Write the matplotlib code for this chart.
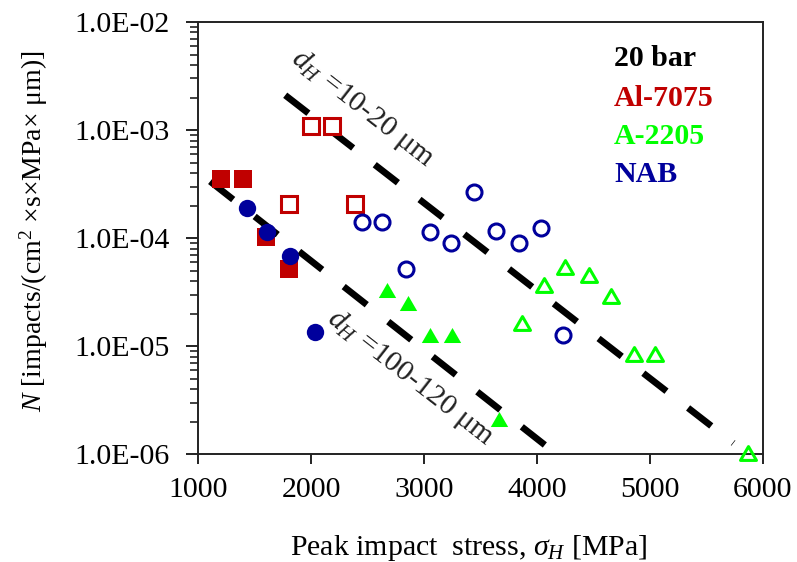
import matplotlib
matplotlib.use("Agg")
import matplotlib.pyplot as plt
from matplotlib.path import Path
from matplotlib.ticker import FixedLocator, FixedFormatter, LogLocator, NullFormatter

plt.rcParams['font.family'] = ['Liberation Serif', 'DejaVu Serif']
plt.rcParams['mathtext.fontset'] = 'custom'
plt.rcParams['mathtext.rm'] = 'Liberation Serif'
plt.rcParams['mathtext.it'] = 'Liberation Serif:italic'
plt.rcParams['mathtext.bf'] = 'Liberation Serif:bold'

# ---- data ----
al_fill_x = [1200, 1400, 1600, 1800]
al_fill_y = [3.5e-4, 3.5e-4, 1.03e-4, 5.2e-5]
al_open_x = [2000, 2180, 1800, 2390]
al_open_y = [1.1e-3, 1.1e-3, 2.05e-4, 2.05e-4]

nab_fill_x = [1430, 1610, 1810, 2030]
nab_fill_y = [1.9e-4, 1.15e-4, 6.8e-5, 1.35e-5]
nab_open_x = [2450, 2630, 3050, 3240, 3440, 3640, 3840, 4040, 2840, 4230]
nab_open_y = [1.42e-4, 1.42e-4, 1.15e-4, 9.0e-5, 2.7e-4, 1.17e-4, 9.0e-5, 1.25e-4, 5.2e-5, 1.27e-5]

a_fill_x = [2670, 2860, 3050, 3245, 3660]
a_fill_y = [3.3e-5, 2.5e-5, 1.27e-5, 1.27e-5, 2.1e-6]
a_open_x = [4060, 4250, 4460, 4660, 3865, 4860, 5050, 5870]
a_open_y = [3.7e-5, 5.45e-5, 4.6e-5, 2.9e-5, 1.65e-5, 8.4e-6, 8.4e-6, 1.03e-6]

line1_x = [1770, 5740]
line1_y = [2.1e-3, 1.27e-6]
line2_x = [1105, 4070]
line2_y = [3.35e-4, 1.22e-6]

x_ticks = [1000, 2000, 3000, 4000, 5000, 6000]
y_ticks = [1e-6, 1e-5, 1e-4, 1e-3, 1e-2]
y_tick_labels = ['1.0E-06', '1.0E-05', '1.0E-04', '1.0E-03', '1.0E-02']

legend_texts = ['20 bar', 'Al-7075', 'A-2205', 'NAB']

RED = '#C00000'
GREEN = '#00FF00'
BLUE = '#00009C'
FS = 21.5

tri = Path([(0, 0.5), (-0.5773, -0.5), (0.5773, -0.5), (0, 0.5)],
           [Path.MOVETO, Path.LINETO, Path.LINETO, Path.CLOSEPOLY])

fig = plt.figure(figsize=(7.97, 5.62), dpi=100)
ax = fig.add_axes([0.2488, 0.1916, 0.7082, 0.7693])
ax.set_yscale('log')

# dashed lines
dash = (0, (4.4, 4.1))
ax.plot(line1_x, line1_y, color='black', lw=4.8, linestyle=dash, dash_capstyle='butt', zorder=2)
ax.plot(line2_x, line2_y, color='black', lw=4.8, linestyle=dash, dash_capstyle='butt', zorder=2)

# markers
ax.plot(al_fill_x, al_fill_y, 's', ms=13.5, mfc=RED, mec=RED, mew=0, ls='none', zorder=3, clip_on=False)
ax.plot(al_open_x, al_open_y, 's', ms=11.0, mfc='white', mec=RED, mew=2.2, ls='none', zorder=3, clip_on=False)
ax.plot(nab_fill_x, nab_fill_y, 'o', ms=12.5, mfc=BLUE, mec=BLUE, mew=0, ls='none', zorder=4, clip_on=False)
ax.plot(nab_open_x, nab_open_y, 'o', ms=10.8, mfc='none', mec=BLUE, mew=2.2, ls='none', zorder=3, clip_on=False)
ax.plot(a_fill_x, a_fill_y, marker=tri, ms=12.5, mfc=GREEN, mec=GREEN, mew=0, ls='none', zorder=3, clip_on=False)
ax.plot(a_open_x, a_open_y, marker=tri, ms=11.5, mfc='none', mec=GREEN, mew=2.2, ls='none', zorder=5, clip_on=False)

ax.set_xlim(1000, 6000)
ax.set_ylim(1e-6, 1e-2)

ax.xaxis.set_major_locator(FixedLocator(x_ticks))
ax.yaxis.set_major_locator(FixedLocator(y_ticks))
ax.yaxis.set_major_formatter(FixedFormatter(y_tick_labels))
ax.yaxis.set_minor_locator(LogLocator(base=10, subs=range(2, 10)))
ax.yaxis.set_minor_formatter(NullFormatter())
ax.tick_params(axis='both', which='major', direction='out', labelsize=FS, width=1.4, color='#222222')
ax.tick_params(axis='y', which='major', length=8.5, pad=12)
ax.tick_params(axis='y', which='minor', direction='out', length=6.0, width=1.2, color='#222222')
ax.tick_params(axis='x', which='major', length=7, pad=9)
for s in ax.spines.values():
    s.set_linewidth(1.4)
    s.set_color('#222222')

ax.set_xlabel(r'Peak impact  stress, $\sigma_H$ [MPa]', fontsize=FS, labelpad=22)
ax.xaxis.label.set_x(0.4796)
ax.set_ylabel(r'$N$ [impacts/(cm$^2$ ×s×MPa× μm)]', fontsize=20)
ax.yaxis.set_label_coords(-0.2628, 0.515)

# line annotations
ax.text(2450, 1.6e-3, r'$d_H$ =10-20 μm', rotation=-38, rotation_mode='anchor',
        ha='center', va='center', fontsize=FS, color='#222222')
ax.text(2875, 5.1e-6, r'$d_H$ =100-120 μm', rotation=-38, rotation_mode='anchor',
        ha='center', va='center', fontsize=FS, color='#222222')

# legend-like labels
leg_colors = ['black', RED, GREEN, BLUE]
leg_y = [0.915, 0.8226, 0.7346, 0.6467]
for t, c, yy in zip(legend_texts, leg_colors, leg_y):
    ax.text(0.7366, yy, t, transform=ax.transAxes, color=c, fontsize=FS,
            fontweight='bold', ha='left', va='center')

fig.savefig('out.png', dpi=100)
